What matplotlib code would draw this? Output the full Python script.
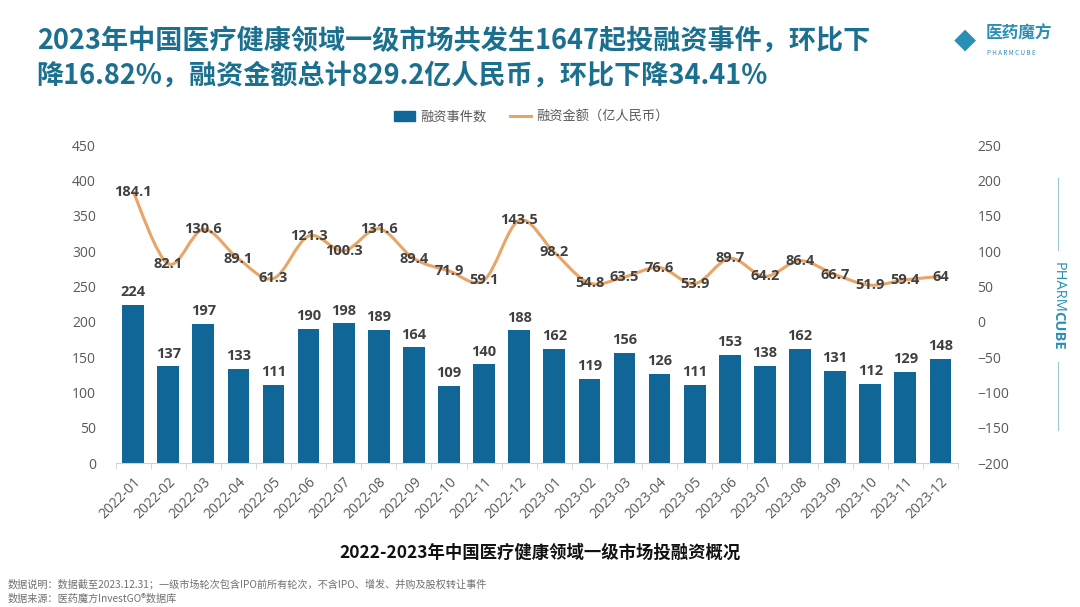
import numpy as np
import matplotlib.pyplot as plt
from matplotlib.path import Path
from matplotlib.patches import PathPatch
from matplotlib.lines import Line2D
from matplotlib.patches import Patch

plt.rcParams['font.family'] = ['Noto Sans CJK SC', 'DejaVu Sans']

months = ['2022-01', '2022-02', '2022-03', '2022-04', '2022-05', '2022-06',
          '2022-07', '2022-08', '2022-09', '2022-10', '2022-11', '2022-12',
          '2023-01', '2023-02', '2023-03', '2023-04', '2023-05', '2023-06',
          '2023-07', '2023-08', '2023-09', '2023-10', '2023-11', '2023-12']
events = [224, 137, 197, 133, 111, 190, 198, 189, 164, 109, 140, 188,
          162, 119, 156, 126, 111, 153, 138, 162, 131, 112, 129, 148]
amount = [184.1, 82.1, 130.6, 89.1, 61.3, 121.3, 100.3, 131.6, 89.4, 71.9, 59.1, 143.5,
          98.2, 54.8, 63.5, 76.6, 53.9, 89.7, 64.2, 86.4, 66.7, 51.9, 59.4, 64]

bar_c = '#0f6697'
line_c = '#e9a566'
teal = '#1b7090'
tick_c = '#595959'
num_font = ['Open Sans', 'DejaVu Sans']

fig = plt.figure(figsize=(10.8, 6.07), dpi=100)
ax = fig.add_axes([0.107, 0.237, 0.78, 0.524])
x = np.arange(len(months))

ax.bar(x, events, width=0.62, color=bar_c, zorder=2)
for xi, v in zip(x, events):
    ax.text(xi, v + 8, str(v), ha='center', va='bottom', fontsize=10.5,
            fontweight='bold', color='#404040', family=num_font)

ax.set_xlim(-0.5, len(months) - 0.5)
ax.set_ylim(0, 450)
ax.set_yticks(range(0, 451, 50))
ax.set_xticks(x)
ax.set_xticklabels(months, rotation=45, ha='right', rotation_mode='anchor')
ax.set_xticks(np.arange(-0.5, len(months), 1), minor=True)
ax.tick_params(axis='x', which='major', length=0, labelsize=10, colors=tick_c, pad=8,
               labelfontfamily='Open Sans')
ax.tick_params(axis='x', which='minor', length=4, color='#d0d0d0')
ax.tick_params(axis='y', length=0, labelsize=10, colors=tick_c, pad=14,
               labelfontfamily='Open Sans')
for s in ['top', 'right', 'left']:
    ax.spines[s].set_visible(False)
ax.spines['bottom'].set_color('#d0d0d0')

ax2 = ax.twinx()
ax2.set_ylim(-200, 250)
ax2.set_yticks(range(-200, 251, 50))
ax2.tick_params(axis='y', length=0, labelsize=10, colors=tick_c, pad=14,
                labelfontfamily='Open Sans')
for s in ax2.spines.values():
    s.set_visible(False)

# smooth line through the points (Catmull-Rom as cubic Bezier)
y = np.array(amount)
verts = [(x[0], y[0])]
codes = [Path.MOVETO]
for i in range(len(x) - 1):
    p0 = (x[max(i - 1, 0)], y[max(i - 1, 0)])
    p1 = (x[i], y[i])
    p2 = (x[i + 1], y[i + 1])
    p3 = (x[min(i + 2, len(x) - 1)], y[min(i + 2, len(x) - 1)])
    c1 = (p1[0] + (p2[0] - p0[0]) / 6, p1[1] + (p2[1] - p0[1]) / 6)
    c2 = (p2[0] - (p3[0] - p1[0]) / 6, p2[1] - (p3[1] - p1[1]) / 6)
    verts += [c1, c2, p2]
    codes += [Path.CURVE4] * 3
ax2.add_patch(PathPatch(Path(verts, codes), facecolor='none', edgecolor=line_c,
                        lw=2.2, zorder=3))
for xi, v in zip(x, amount):
    ax2.text(xi, v, f'{v:g}', ha='center', va='center', fontsize=10.5,
             fontweight='bold', color='#404040', zorder=4, family=num_font)

# legend
handles = [Patch(color=bar_c), Line2D([0], [0], color=line_c, lw=2.2)]
fig.legend(handles, ['融资事件数', '融资金额（亿人民币）'], loc='center',
           bbox_to_anchor=(0.492, 0.807), ncol=2, frameon=False, fontsize=9.5,
           labelcolor=tick_c, handlelength=1.6, handleheight=0.7, columnspacing=1.8,
           handletextpad=0.4)

# titles and notes
fig.text(0.034, 0.933, '2023年中国医疗健康领域一级市场共发生1647起投融资事件，环比下',
         fontsize=19.5, fontweight='bold', color=teal, va='center')
fig.text(0.034, 0.876, '降16.82%，融资金额总计829.2亿人民币，环比下降34.41%',
         fontsize=19.5, fontweight='bold', color=teal, va='center')
fig.text(0.5, 0.09, '2022-2023年中国医疗健康领域一级市场投融资概况', ha='center',
         va='center', fontsize=12.5, fontweight='bold', color='#111111')
fig.text(0.007, 0.038, '数据说明：数据截至2023.12.31；一级市场轮次包含IPO前所有轮次，不含IPO、增发、并购及股权转让事件',
         fontsize=7.3, color='#707070', va='center')
fig.text(0.007, 0.014, '数据来源：医药魔方InvestGO®数据库',
         fontsize=7.3, color='#707070', va='center')

# logo
fig.text(0.913, 0.945, '医药魔方', fontsize=12, fontweight='bold', color='#2b8fb5', va='center')
fig.text(0.914, 0.913, 'P H A R M C U B E', fontsize=4.5, color='#2b8fb5', va='center')
fig.text(0.893, 0.93, '◆', fontsize=16, color='#2b8fb5', ha='center', va='center')

# vertical side label
fig.text(0.98, 1 - 262 / 607, 'PHARM', rotation=-90, ha='center', va='top',
         fontsize=10.5, color='#2b8fb5', family=num_font)
fig.text(0.98, 1 - 311 / 607, 'CUBE', rotation=-90, ha='center', va='top',
         fontsize=10.5, color='#2b8fb5', fontweight='bold', family=num_font)
fig.add_artist(Line2D([0.98, 0.98], [1 - 250 / 607, 1 - 178 / 607], color='#9cc7d6', lw=0.8))
fig.add_artist(Line2D([0.98, 0.98], [1 - 430 / 607, 1 - 362 / 607], color='#9cc7d6', lw=0.8))

fig.savefig('out.png', dpi=100, facecolor='white')
